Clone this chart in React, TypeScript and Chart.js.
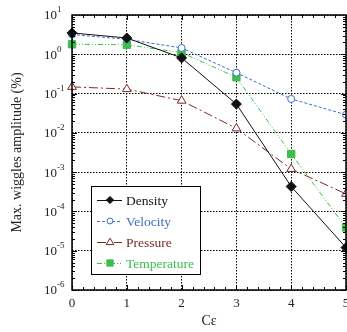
import { useEffect, useRef } from "react";
import { Chart, registerables } from "chart.js";

Chart.register(...registerables);

const cValues = [0, 1, 2, 3, 4, 5];
const density = [3.5, 2.6, 0.81, 0.054, 4.3e-4, 1.2e-5];
const velocity = [3.2, 2.4, 1.45, 0.34, 0.073, 0.029];
const pressure = [0.148, 0.13, 0.066, 0.013, 1.2e-3, 2.8e-4];
const temperature = [1.8, 1.75, 1.1, 0.26, 2.9e-3, 3.9e-5];
const yExponents = [-6, -5, -4, -3, -2, -1, 0, 1];
const seriesNames = ["Density", "Velocity", "Pressure", "Temperature"];

const FONT = "'Liberation Serif', 'Times New Roman', serif";
const BLACK = "#111111";
const BLUE = "#3f6fc6";
const RED = "#7a2a2a";
const GREEN = "#3dbd4a";

const styles = [
  { color: BLACK, dash: [] as number[], point: "rectRot", radius: 5, fill: BLACK },
  { color: BLUE, dash: [3, 2], point: "circle", radius: 3.5, fill: "#ffffff" },
  { color: RED, dash: [9, 3, 2, 3], point: "triangle", radius: 5, fill: "#ffffff" },
  { color: GREEN, dash: [5, 2, 1, 2, 1, 2], point: "rect", radius: 5.2, fill: GREEN },
];

const seriesValues = [density, velocity, pressure, temperature];

function drawMarker(ctx: CanvasRenderingContext2D, kind: string, x: number, y: number, r: number, fill: string, stroke: string) {
  ctx.save();
  ctx.setLineDash([]);
  ctx.beginPath();
  if (kind === "rectRot") {
    const s = r * 0.85;
    ctx.moveTo(x - s, y); ctx.lineTo(x, y - s); ctx.lineTo(x + s, y); ctx.lineTo(x, y + s); ctx.closePath();
  } else if (kind === "circle") {
    ctx.arc(x, y, r, 0, Math.PI * 2);
  } else if (kind === "triangle") {
    const h = r * 1.5;
    ctx.moveTo(x, y - h * 0.6); ctx.lineTo(x + r * 0.9, y + h * 0.4); ctx.lineTo(x - r * 0.9, y + h * 0.4); ctx.closePath();
  } else {
    const s = r * Math.SQRT1_2;
    ctx.rect(x - s, y - s, 2 * s, 2 * s);
  }
  ctx.fillStyle = fill;
  ctx.fill();
  ctx.strokeStyle = stroke;
  ctx.lineWidth = 1;
  ctx.stroke();
  ctx.restore();
}

const decorPlugin = {
  id: "decor",
  afterDatasetsDraw(chart: any) {
    const ctx: CanvasRenderingContext2D = chart.ctx;
    const { left, right, top, bottom } = chart.chartArea;
    const xs = chart.scales.x;
    const ys = chart.scales.y;
    ctx.save();
    ctx.strokeStyle = "#000";
    ctx.lineWidth = 1;
    ctx.setLineDash([]);
    ctx.beginPath();
    for (let v = 0; v <= 5.001; v += 0.2) {
      const px = Math.round(xs.getPixelForValue(v)) + 0.5;
      const isMajor = Math.abs(v - Math.round(v)) < 1e-6;
      const len = isMajor ? 5 : 3;
      ctx.moveTo(px, bottom); ctx.lineTo(px, bottom - len);
      ctx.moveTo(px, top); ctx.lineTo(px, top + len);
    }
    for (let e = -6; e < 1; e++) {
      for (let m = 1; m <= 9; m++) {
        const py = Math.round(ys.getPixelForValue(m * Math.pow(10, e))) + 0.5;
        const len = m === 1 ? 5 : 3;
        ctx.moveTo(left, py); ctx.lineTo(left + len, py);
        ctx.moveTo(right, py); ctx.lineTo(right - len, py);
      }
    }
    ctx.stroke();
    ctx.lineWidth = 1.5;
    ctx.strokeRect(left, top, right - left, bottom - top);
    ctx.restore();
  },
  afterDraw(chart: any) {
    const ctx: CanvasRenderingContext2D = chart.ctx;
    const { left, top } = chart.chartArea;
    const ys = chart.scales.y;
    ctx.save();
    ctx.fillStyle = "#222";
    for (const e of yExponents) {
      const py = ys.getPixelForValue(Math.pow(10, e));
      ctx.font = `13px ${FONT}`;
      ctx.textAlign = "right";
      ctx.textBaseline = "middle";
      ctx.fillText("10", left - 15, py + 1);
      ctx.font = `9px ${FONT}`;
      ctx.textAlign = "left";
      ctx.textBaseline = "middle";
      ctx.fillText(String(e), left - 15, py - 5);
    }
    const bx = left + 19;
    const by = top + 171;
    const bw = 109;
    const bh = 88;
    ctx.fillStyle = "#ffffff";
    ctx.fillRect(bx, by, bw, bh);
    ctx.strokeStyle = "#000";
    ctx.lineWidth = 1;
    ctx.setLineDash([]);
    ctx.strokeRect(bx + 0.5, by + 0.5, bw, bh);
    seriesNames.forEach((name, i) => {
      const st = styles[i];
      const ry = by + 14 + i * 21;
      ctx.save();
      ctx.strokeStyle = st.color;
      ctx.lineWidth = 1;
      ctx.setLineDash(st.dash);
      ctx.beginPath();
      ctx.moveTo(bx + 6, ry + 0.5);
      ctx.lineTo(bx + 31, ry + 0.5);
      ctx.stroke();
      ctx.restore();
      drawMarker(ctx, st.point, bx + 19, ry, st.radius * 0.85, st.fill, st.color);
      ctx.font = `13.5px ${FONT}`;
      ctx.fillStyle = st.color;
      ctx.textAlign = "left";
      ctx.textBaseline = "middle";
      ctx.fillText(name, bx + 35, ry + 1);
    });
    ctx.restore();
  },
};

export default function App() {
  const ref = useRef<HTMLCanvasElement | null>(null);
  useEffect(() => {
    document.body.style.margin = "0";
    const canvas = ref.current!;
    const datasets = seriesNames.map((name, i) => ({
      label: name,
      data: cValues.map((c, j) => ({ x: c, y: seriesValues[i][j] })),
      borderColor: styles[i].color,
      backgroundColor: styles[i].fill,
      borderWidth: 1,
      borderDash: styles[i].dash,
      pointStyle: styles[i].point as any,
      pointRadius: styles[i].radius,
      pointBorderWidth: 1,
      pointBorderColor: styles[i].color,
      pointBackgroundColor: styles[i].fill,
      tension: 0,
      clip: false as any,
    }));
    const chart = new Chart(canvas, {
      type: "line",
      data: { datasets },
      options: {
        responsive: false,
        animation: false,
        layout: { autoPadding: false, padding: { top: 15, right: 1, left: 0, bottom: 0 } } as any,
        plugins: { legend: { display: false }, tooltip: { enabled: false } },
        scales: {
          x: {
            type: "linear",
            min: 0,
            max: 5,
            afterBuildTicks: (s: any) => { s.ticks = cValues.map((v) => ({ value: v })); },
            afterFit: (s: any) => { s.height = 42; s.paddingLeft = 0; s.paddingRight = 0; },
            grid: { color: "#000", lineWidth: 1, drawTicks: false } as any,
            border: { display: false, dash: [1.5, 1.5] } as any,
            ticks: { color: "#222", font: { family: FONT, size: 13 }, padding: 6, maxRotation: 0 },
            title: { display: true, text: "Cε", color: "#222", font: { family: FONT, size: 14 }, padding: { top: 0, bottom: 2 } },
          },
          y: {
            type: "logarithmic",
            min: 1e-6,
            max: 10,
            afterBuildTicks: (s: any) => { s.ticks = yExponents.map((e) => ({ value: Math.pow(10, e) })); },
            afterFit: (s: any) => { s.width = 72; s.paddingTop = 0; s.paddingBottom = 0; },
            grid: { color: "#000", lineWidth: 1, drawTicks: false } as any,
            border: { display: false, dash: [1.5, 1.5] } as any,
            ticks: { display: false },
            title: { display: true, text: "Max. wiggles amplitude (%)", color: "#222", font: { family: FONT, size: 14 }, padding: { top: 9, bottom: 0 } },
          },
        },
      },
      plugins: [decorPlugin],
    });
    return () => chart.destroy();
  }, []);
  return (
    <div style={{ width: 347, height: 332 }}>
      <canvas ref={ref} width={347} height={332} style={{ display: "block" }} />
    </div>
  );
}
